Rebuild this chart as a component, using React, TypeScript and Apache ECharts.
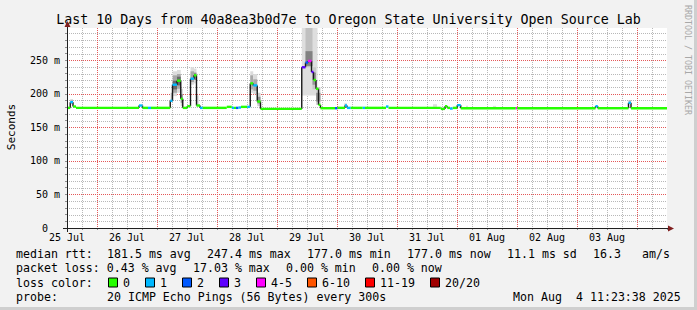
import React, { useEffect, useRef } from "react";
import * as echarts from "echarts";

// ---------- texts ----------
const TITLE = "Last 10 Days from 40a8ea3b0d7e to Oregon State University Open Source Lab";
const Y_NAME = "Seconds";
const WATERMARK = "RRDTOOL / TOBI OETIKER";

// ---------- axes (x = hours since 25 Jul 00:00) ----------
const X_MIN = 12;
const X_MAX = 252;
const X_STEP = 6;
const Y_MAX = 298;
const Y_STEP = 10;
const dayLabels = ["25 Jul", "26 Jul", "27 Jul", "28 Jul", "29 Jul", "30 Jul", "31 Jul", "01 Aug", "02 Aug", "03 Aug"];
const majorHours = [24, 48, 72, 96, 120, 144, 168, 192, 216, 240];
const majorMs = [50, 100, 150, 200, 250];

// ---------- loss legend ----------
const lossLabels = ["0", "1", "2", "3", "4-5", "6-10", "11-19", "20/20"];
const lossColors = ["#26ff00", "#00b8ff", "#0059ff", "#5e00ff", "#ff00ff", "#ff5500", "#ff0000", "#a10000"];

// ---------- median rtt (step start hour, ms, loss index) ----------
const medianHours = [
  12.0, 13.3, 14.4, 15.6, 40.8, 42.2, 44.4, 45.6, 53.3, 54.2, 56.0, 57.5, 58.3, 60.1, 61.4, 62.8,
  63.8, 65.2, 66.3, 75.9, 77.9, 78.8, 79.6, 80.6, 81.6, 84.1, 85.3, 86.5, 88.1, 89.4, 105.9, 107.4,
  108.4, 109.8, 110.6, 111.6, 112.6, 113.4, 119.2, 120.2, 123.2, 124.0, 125.5, 130.3, 131.2, 139.6,
  140.6, 161.5, 163.2, 164.1, 165.2, 166.3, 168.1, 169.5, 191.5, 192.1, 223.4, 224.3, 236.6, 237.6,
];
const medianMs = [
  177.5, 186, 179.5, 177.5, 181, 177.5, 177.5, 177.5, 188, 212, 218, 191, 177.5, 180, 221, 226,
  181, 177.5, 177.5, 179, 177.5, 177.5, 177.5, 178, 179, 179, 214, 211, 187, 176, 238, 245,
  247.4, 231, 219, 206, 182, 177, 177, 177.5, 181, 177.5, 177.5, 177.5, 177.5, 179.5,
  177.5, 176, 180, 177.5, 176.5, 177.5, 181.5, 177, 177, 177, 180, 177, 185, 177,
];
const medianLoss = [
  0, 1, 0, 0, 1, 0, 1, 0, 1, 1, 0, 0, 0, 0, 1, 0,
  0, 1, 0, 0, 1, 0, 2, 1, 0, 1, 0, 1, 0, 0, 3, 2,
  4, 3, 0, 0, 0, 0, 2, 0, 1, 1, 0, 1, 0, 1,
  0, 0, 0, 0, 1, 0, 1, 0, 4, 0, 1, 0, 1, 0,
];

// ---------- smoke (from hour, to hour, low ms, high ms, gray level) ----------
const smokeFrom = [13.3, 53.5, 54.3, 54.3, 54.3, 56.0, 56.0, 56.0, 57.5, 57.5, 61.4, 61.4, 62.8, 62.8, 63.8,
  85.3, 85.3, 86.5, 86.5, 88.1, 88.1, 105.9, 107.4, 107.4, 110.2, 110.2, 111.6, 111.6,
  122.9, 158.4, 171.6, 182.4, 236.6];
const smokeTo = [14.4, 54.3, 56.0, 56.0, 56.0, 57.5, 57.5, 57.5, 58.3, 58.3, 62.8, 62.8, 63.8, 63.8, 64.6,
  86.5, 86.5, 88.1, 88.1, 89.4, 89.4, 112.2, 110.2, 110.2, 111.6, 111.6, 113.4, 113.4,
  124.0, 160.0, 172.4, 183.6, 237.6];
const smokeLo = [183, 186, 195, 200, 205, 200, 206, 211, 180, 185, 212, 216, 214, 219, 180,
  200, 205, 198, 203, 180, 184, 196, 238, 240, 205, 212, 182, 187,
  180, 179, 178, 178, 184];
const smokeHi = [190, 200, 232, 226, 218, 234, 228, 224, 206, 198, 238, 232, 236, 230, 196,
  232, 226, 228, 220, 200, 194, 300, 300, 262, 238, 230, 208, 200,
  184, 183, 180.5, 180.5, 189];
const smokeGray = [190, 185, 220, 168, 106, 220, 168, 106, 208, 144, 220, 168, 220, 144, 208,
  220, 168, 220, 168, 208, 144, 222, 192, 130, 200, 150, 210, 150,
  200, 222, 222, 222, 190];

// ---------- legend text ----------
const legendRtt = ["median rtt:  181.5 ms avg", "247.4 ms max", "177.0 ms min", "177.0 ms now", "11.1 ms sd", "16.3   am/s"];
const legendLoss = ["packet loss: 0.43 % avg", "17.03 % max", "0.00 % min", "0.00 % now"];
const legendColorTitle = "loss color:";
const probeLabel = "probe:";
const probeText = "20 ICMP Echo Pings (56 Bytes) every 300s";
const dateStamp = "Mon Aug  4 11:23:38 2025";

// ---------- layout ----------
const MONO = '"DejaVu Sans Mono", monospace';
const CW = 7;
const GAP = 16;
const LX = 16;
const LINE_Y = [254.3, 268.4, 282.5, 296.6];
const MINOR = "#b8b8b8";
const MAJOR = "#e45858";

function runs(str: string, x0: number, y: number): any[] {
  const out: any[] = [];
  const re = /\S+(?: \S+)*/g;
  let m: RegExpExecArray | null;
  while ((m = re.exec(str))) {
    out.push({
      type: "text",
      x: x0 + m.index * CW,
      y,
      silent: true,
      style: { text: m[0], font: `11.6px ${MONO}`, fill: "#000", verticalAlign: "middle" },
    });
  }
  return out;
}

function chunks(list: string[], y: number): any[] {
  let x = LX;
  const out: any[] = [];
  list.forEach((c) => {
    out.push(...runs(c, x, y));
    x += c.length * CW + GAP;
  });
  return out;
}

function buildOption(): any {
  const segData = medianHours.map((t, i) => [
    t,
    i + 1 < medianHours.length ? medianHours[i + 1] : X_MAX,
    medianMs[i],
    medianLoss[i],
  ]);
  const jumpData: number[][] = [];
  for (let i = 1; i < medianHours.length; i++) {
    if (Math.abs(medianMs[i] - medianMs[i - 1]) > 2) jumpData.push([medianHours[i], medianMs[i - 1], medianMs[i]]);
  }
  const smokeData = smokeFrom.map((f, i) => [f, smokeTo[i], smokeLo[i], smokeHi[i], smokeGray[i]]);

  // grid lines at the axis ticks: [x1, y1, x2, y2, isMajor]
  const gridData: number[][] = [];
  for (let h = X_MIN + X_STEP; h < X_MAX; h += X_STEP) {
    gridData.push([h, Y_MAX, h, 0, majorHours.includes(h) ? 1 : 0]);
  }
  for (let v = Y_STEP; v < Y_MAX; v += Y_STEP) {
    gridData.push([X_MIN, v, X_MAX, v, majorMs.includes(v) ? 1 : 0]);
  }
  gridData.sort((a, b) => a[4] - b[4]);

  const graphics: any[] = [];
  graphics.push({ type: "rect", silent: true, shape: { x: 694, y: 0, width: 3, height: 310 }, style: { fill: "#cfcfcf" } });
  graphics.push({ type: "rect", silent: true, shape: { x: 0, y: 307, width: 697, height: 3 }, style: { fill: "#cfcfcf" } });
  graphics.push({
    type: "text", x: 348.5, y: 19, silent: true,
    style: { text: TITLE, font: `13.3px ${MONO}`, fill: "#000", align: "center", verticalAlign: "middle" },
  });
  graphics.push({
    type: "text", x: 11, y: 127, rotation: Math.PI / 2, silent: true,
    style: { text: Y_NAME, font: `11px ${MONO}`, fill: "#000", align: "center", verticalAlign: "middle" },
  });
  graphics.push({
    type: "text", x: 688, y: 60, rotation: -Math.PI / 2, silent: true,
    style: { text: WATERMARK, font: `8.3px ${MONO}`, fill: "#a8a8a8", align: "center", verticalAlign: "middle" },
  });
  graphics.push({ type: "line", silent: true, z: 10, shape: { x1: 63, y1: 228.5, x2: 668, y2: 228.5 }, style: { stroke: "#1f1f1f", lineWidth: 1 } });
  graphics.push({ type: "line", silent: true, z: 10, shape: { x1: 67.5, y1: 232, x2: 67.5, y2: 26 }, style: { stroke: "#1f1f1f", lineWidth: 1 } });
  graphics.push({ type: "polygon", silent: true, z: 10, shape: { points: [[668, 225.5], [674, 228.5], [668, 231.5]] }, style: { fill: "#801f1f" } });
  graphics.push({ type: "polygon", silent: true, z: 10, shape: { points: [[64.5, 27], [67.5, 21], [70.5, 27]] }, style: { fill: "#801f1f" } });

  graphics.push(...chunks(legendRtt, LINE_Y[0]));
  graphics.push(...chunks(legendLoss, LINE_Y[1]));
  graphics.push(...runs(legendColorTitle, LX, LINE_Y[2]));
  let bx = 108;
  lossLabels.forEach((lab, i) => {
    graphics.push({
      type: "rect", silent: true,
      shape: { x: bx + 0.5, y: LINE_Y[2] - 4.5, width: 9, height: 9 },
      style: { fill: lossColors[i], stroke: "#000", lineWidth: 1 },
    });
    graphics.push(...runs(lab, bx + 15, LINE_Y[2]));
    bx = bx + 15 + lab.length * CW + 15;
  });
  graphics.push(...runs(probeLabel, LX, LINE_Y[3]));
  graphics.push(...runs(probeText, LX + 13 * CW, LINE_Y[3]));
  graphics.push(...runs(dateStamp, 681 - dateStamp.length * CW, LINE_Y[3]));

  return {
    animation: false,
    backgroundColor: "#f2f2f2",
    grid: {
      left: 67, top: 28, width: 600, height: 200,
      show: true, backgroundColor: "#ffffff", borderWidth: 0,
    },
    xAxis: {
      type: "value",
      min: X_MIN,
      max: X_MAX,
      interval: X_STEP,
      axisLine: { show: true, lineStyle: { color: "#1f1f1f", width: 1 } },
      axisTick: { show: true, length: 2, lineStyle: { color: "#8f8f8f" } },
      axisLabel: {
        show: true,
        margin: 4,
        showMinLabel: true,
        showMaxLabel: true,
        color: "#000",
        fontFamily: MONO,
        fontSize: 10,
        formatter: (v: number) => {
          const k = (v - X_MIN) / 24;
          return Number.isInteger(k) && k < dayLabels.length ? dayLabels[k] : "";
        },
      },
      splitLine: { show: false },
    },
    yAxis: {
      type: "value",
      min: 0,
      max: Y_MAX,
      interval: Y_STEP,
      axisLine: { show: true, lineStyle: { color: "#1f1f1f", width: 1 } },
      axisTick: { show: true, length: 2, lineStyle: { color: "#8f8f8f" } },
      axisLabel: {
        show: true,
        margin: 7,
        color: "#000",
        fontFamily: MONO,
        fontSize: 10,
        showMaxLabel: false,
        formatter: (v: number) => (v % 50 === 0 ? (v === 0 ? "{z|0}" : `${v} m`) : ""),
        rich: { z: { fontFamily: MONO, fontSize: 10, color: "#000", padding: [0, 12, 0, 0] } },
      },
      splitLine: { show: false },
    },
    series: [
      {
        type: "custom",
        name: "grid",
        silent: true,
        clip: true,
        encode: { x: [0, 2], y: [1, 3] },
        data: gridData,
        renderItem: (_p: any, api: any) => {
          const a = api.coord([api.value(0), api.value(1)]);
          const b = api.coord([api.value(2), api.value(3)]);
          const vertical = api.value(0) === api.value(2);
          const x1 = vertical ? Math.round(a[0]) + 0.5 : a[0];
          const y1 = vertical ? a[1] : Math.round(a[1]) + 0.5;
          const x2 = vertical ? x1 : b[0];
          const y2 = vertical ? b[1] : y1;
          return {
            type: "line",
            shape: { x1, y1, x2, y2 },
            style: { stroke: api.value(4) ? MAJOR : MINOR, lineWidth: 1, lineDash: [1, 1] },
          };
        },
      },
      {
        type: "custom",
        name: "smoke",
        silent: true,
        clip: true,
        encode: { x: [0, 1], y: [2, 3] },
        data: smokeData,
        renderItem: (_p: any, api: any) => {
          const a = api.coord([api.value(0), api.value(3)]);
          const b = api.coord([api.value(1), api.value(2)]);
          const g = api.value(4);
          return {
            type: "rect",
            shape: { x: a[0], y: a[1] - 1, width: b[0] - a[0], height: b[1] - a[1] },
            style: { fill: `rgb(${g},${g},${g})` },
          };
        },
      },
      {
        type: "custom",
        name: "jumps",
        silent: true,
        clip: true,
        encode: { x: 0, y: [1, 2] },
        data: jumpData,
        renderItem: (_p: any, api: any) => {
          const a = api.coord([api.value(0), api.value(1)]);
          const b = api.coord([api.value(0), api.value(2)]);
          return {
            type: "line",
            shape: { x1: a[0], y1: a[1] - 1, x2: b[0], y2: b[1] - 1 },
            style: { stroke: "#1a1a1a", lineWidth: 1.4 },
          };
        },
      },
      {
        type: "custom",
        name: "median",
        silent: true,
        clip: true,
        encode: { x: [0, 1], y: 2 },
        data: segData,
        renderItem: (_p: any, api: any) => {
          const a = api.coord([api.value(0), api.value(2)]);
          const b = api.coord([api.value(1), api.value(2)]);
          return {
            type: "rect",
            shape: { x: a[0], y: a[1] - 2.2, width: Math.max(b[0] - a[0], 1), height: 2.4 },
            style: { fill: lossColors[api.value(3)] },
          };
        },
      },
    ],
    graphic: { elements: graphics },
  };
}

export default function App() {
  const ref = useRef<HTMLDivElement>(null);
  useEffect(() => {
    document.body.style.margin = "0";
    const chart = echarts.init(ref.current!, null, { renderer: "svg" });
    chart.setOption(buildOption());
    return () => chart.dispose();
  }, []);
  return <div ref={ref} style={{ width: 697, height: 310 }} />;
}
